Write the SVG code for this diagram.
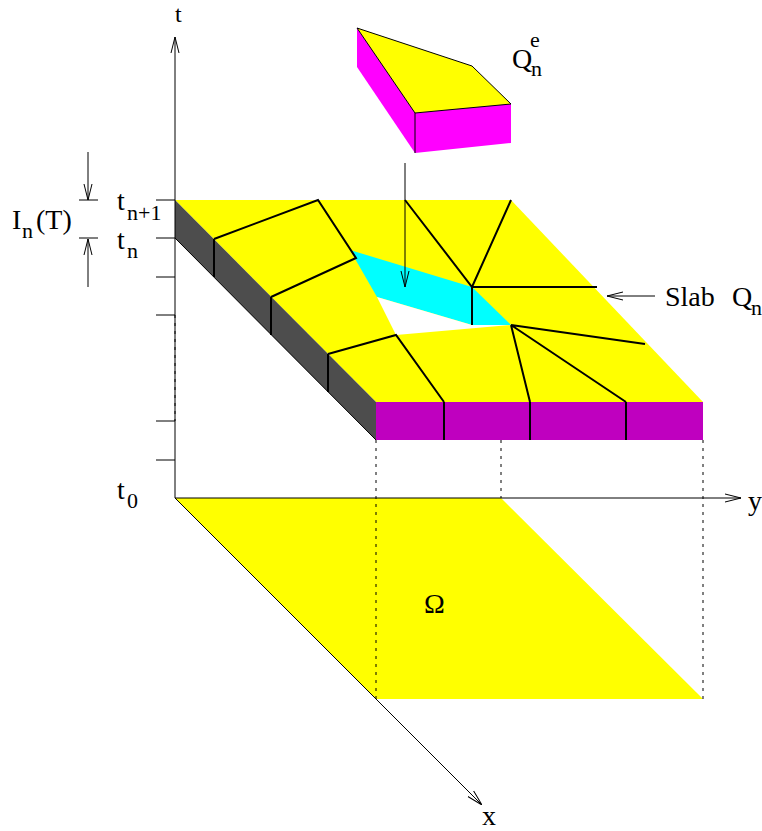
<svg xmlns="http://www.w3.org/2000/svg" width="762" height="831" viewBox="0 0 762 831">
<style>
text{font-family:"Liberation Serif","Times New Roman",serif;fill:#000}
.m{font-size:28px}
.s{font-size:22px}
.l{fill:none;stroke:#000;stroke-width:1}
.b{fill:none;stroke:#000;stroke-width:2}
.d{fill:none;stroke:#000;stroke-width:1;stroke-dasharray:3 5}
</style>
<defs><marker id="a" viewBox="0 0 16 10" refX="16" refY="5" markerWidth="16" markerHeight="10" markerUnits="userSpaceOnUse" orient="auto"><path d="M0 1L16 5L0 9" fill="none" stroke="#000"/></marker></defs>
<rect width="762" height="831" fill="#fff"/>
<g id="domain"><polygon points="175,498 501,498 703,699 376,699" fill="#ff0"/></g>
<g id="slab">
<polygon points="175,200 511,200 703,402 376,402" fill="#ff0"/>
<polygon points="350,250 472,287 511,325 472,325 377,297" fill="#0ff"/>
<polygon points="377,297 472,325 511,325 396,335" fill="#fff"/>
<polygon points="175,200 376,402 376,440 175,238" fill="#4d4d4d"/>
<rect x="376" y="402" width="327" height="38" fill="#bf00bf"/>
<path class="l" d="M175 238L376 440"/>
<path class="b" d="M214 239L318 200L356 258L271 297M328 354L396 335L444 402M214 239V277M271 297V335M328 354V392M444 402V440M530 402V440M626 402V440M405 200L472 287L511 200M472 287H597M472 287V325M511 325L645 344M511 325L530 402M511 325L626 402"/>
</g>
<g id="element">
<polygon points="357,28 472,66 511,104 415,113" fill="#ff0"/>
<polygon points="357,28 415,113 415,153 357,67" fill="#f0f"/>
<polygon points="415,113 511,104 511,143 415,153" fill="#f0f"/>
<path class="l" d="M415 113L357 28L472 66L511 104L415 113V153"/>
</g>
<g id="connectors">
<path class="l" marker-end="url(#a)" d="M175 498V37"/>
<path class="l" marker-end="url(#a)" d="M175 498H741"/>
<path class="l" marker-end="url(#a)" d="M175 498L482 805"/>
<path class="l" d="M156 200H175M156 238H175M156 277H175M156 315H175M156 421H175M156 460H175M79 200H98M79 238H98"/>
<path class="l" marker-end="url(#a)" d="M88 152V200"/>
<path class="l" marker-end="url(#a)" d="M88 287V239"/>
<path class="l" marker-end="url(#a)" d="M405 163V287"/>
<path class="l" marker-end="url(#a)" d="M655 296H607"/>
<path class="d" d="M175 315V421M376 440V699M501 440V498M703 440V699"/>
</g>
<g id="labels">
<text x="175" y="22" font-size="24">t</text>
<text class="m" x="748" y="510">y</text>
<text class="m" x="482" y="825">x</text>
<text class="m" x="424" y="613">Ω</text>
<text class="m" x="665" y="306">Slab</text>
<text class="m" x="732" y="306">Q</text><text class="s" x="751" y="315">n</text>
<text class="m" x="512" y="68">Q</text><text class="s" x="530" y="47">e</text><text class="s" x="531" y="76">n</text>
<text class="m" x="12" y="229">I</text><text class="s" x="22" y="238">n</text><text class="m" x="36" y="229">(T)</text>
<text class="m" x="117" y="210">t</text><text class="s" x="127" y="220">n+1</text>
<text class="m" x="117" y="249">t</text><text class="s" x="127" y="258">n</text>
<text class="m" x="117" y="499">t</text><text class="s" x="127" y="508">0</text>
</g>
</svg>
